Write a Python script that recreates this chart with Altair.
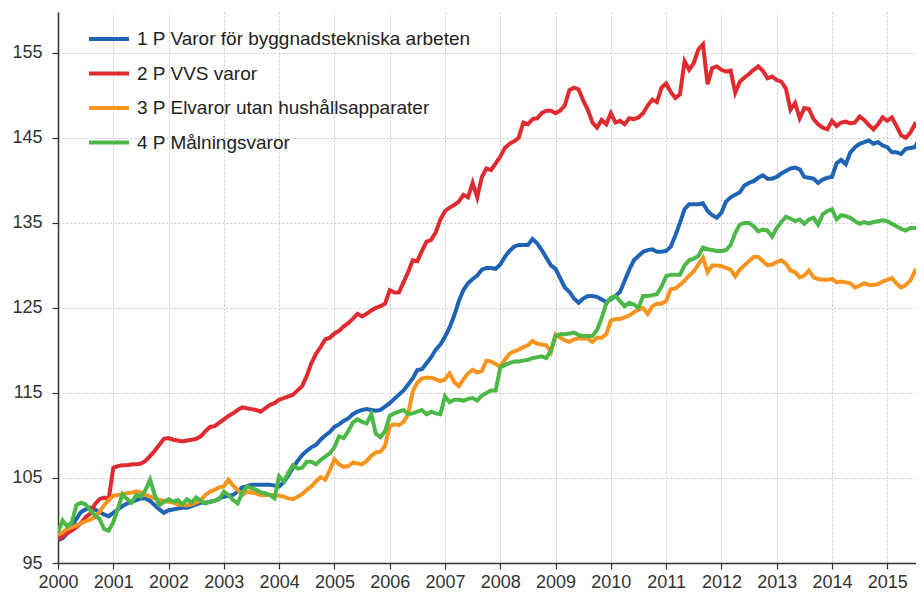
import altair as alt
import pandas as pd

# Series names (legend labels)
names = [
    "1 P Varor för byggnadstekniska arbeten",
    "2 P VVS varor",
    "3 P Elvaror utan hushållsapparater",
    "4 P Målningsvaror",
]
colors = ["#1f64b4", "#df2a2f", "#f7941d", "#4cb847"]

years = list(range(2000, 2016))
y_ticks = [95, 105, 115, 125, 135, 145, 155]

# Monthly index values, Jan 2000 .. Sep 2015
s1 = [
    97.7, 97.9, 98.5, 99.3, 100.2, 101.0, 101.3, 101.5, 101.3, 101.0, 100.7, 100.5,
    100.9, 101.3, 101.7, 102.0, 102.2, 102.4, 102.6, 102.6, 102.3, 101.8, 101.3, 100.9,
    101.2, 101.3, 101.4, 101.5, 101.5, 101.7, 101.9, 102.1, 102.1, 102.2, 102.3, 102.6,
    102.8, 102.9, 103.0, 103.4, 103.9, 104.0, 104.2, 104.2, 104.2, 104.2, 104.2, 104.1,
    104.0, 104.5, 105.3, 106.2, 107.0, 107.7, 108.2, 108.6, 108.9, 109.5, 110.0, 110.4,
    111.0, 111.3, 111.7, 112.0, 112.5, 112.8, 113.0, 113.1, 113.0, 112.9, 113.0, 113.4,
    113.8, 114.3, 114.8, 115.3, 116.0, 116.7, 117.7, 117.8, 118.5, 119.2, 120.1, 120.7,
    121.6, 122.7, 124.1, 125.8, 127.1, 127.9, 128.4, 128.8, 129.5, 129.7, 129.7, 129.6,
    130.1, 131.0, 131.7, 132.2, 132.4, 132.4, 132.4, 133.1, 132.6, 131.8, 130.9, 130.0,
    129.6, 128.5, 127.4, 126.9, 126.1, 125.6, 126.1, 126.4, 126.4, 126.3, 126.0, 125.7,
    126.0, 126.4, 126.9, 128.2, 129.5, 130.6, 131.1, 131.6, 131.8, 131.9, 131.6, 131.6,
    131.7, 132.2, 133.5, 135.0, 136.6, 137.2, 137.2, 137.2, 137.3, 136.4, 135.9, 135.6,
    136.2, 137.5, 138.0, 138.3, 138.6, 139.4, 139.7, 139.9, 140.3, 140.6, 140.2, 140.2,
    140.4, 140.8, 141.1, 141.4, 141.5, 141.3, 140.4, 140.3, 140.2, 139.7, 140.1, 140.3,
    140.4, 142.0, 142.4, 141.9, 143.3, 143.9, 144.3, 144.5, 144.7, 144.3, 144.5, 144.1,
    143.9, 143.3, 143.3, 143.1, 143.7, 143.8, 143.9, 144.9, 144.4,
]
s2 = [
    97.8, 98.1, 98.5, 98.8, 99.2, 99.7, 100.4, 100.8, 101.9, 102.5, 102.7, 102.5,
    106.2, 106.4, 106.5, 106.5, 106.6, 106.6, 106.7, 107.0, 107.6, 108.2, 108.9, 109.6,
    109.7, 109.5, 109.4, 109.3, 109.4, 109.5, 109.6, 109.9, 110.5, 111.0, 111.1, 111.5,
    111.9, 112.3, 112.6, 113.0, 113.3, 113.2, 113.1, 113.0, 112.8, 113.2, 113.6, 113.8,
    114.2, 114.4, 114.6, 114.8, 115.3, 115.8, 117.0, 118.5, 119.6, 120.4, 121.3, 121.5,
    122.0, 122.3, 122.8, 123.2, 123.7, 124.3, 124.0, 124.3, 124.7, 125.0, 125.2, 125.5,
    127.1, 126.8, 126.8, 128.0, 129.2, 130.6, 130.5, 131.7, 132.8, 133.0, 133.9, 135.4,
    136.4, 136.8, 137.1, 137.5, 138.3, 138.0, 139.7, 138.0, 140.4, 141.4, 141.2, 142.0,
    142.8, 143.8, 144.3, 144.6, 145.0, 146.8, 146.6, 147.2, 147.3, 147.9, 148.2, 148.2,
    147.9, 148.2, 148.8, 150.6, 150.9, 150.7, 149.4, 148.3, 146.8, 146.2, 147.1, 146.6,
    147.9, 146.8, 147.0, 146.6, 147.3, 147.2, 147.4, 147.9, 148.8, 149.5, 149.2, 150.9,
    151.4, 150.4, 149.7, 150.1, 154.0, 153.0, 153.8, 155.4, 156.0, 151.3, 153.2, 153.4,
    153.0, 152.8, 152.9, 150.3, 151.6, 152.1, 152.5, 153.0, 153.4, 152.9, 152.0, 152.2,
    151.8, 151.6, 150.8, 148.3, 149.1, 147.3, 148.5, 148.4, 147.2, 146.6, 146.2, 146.0,
    147.0, 146.4, 146.8, 146.9, 146.7, 146.8, 147.5, 147.1, 146.5, 146.0, 146.6, 147.4,
    147.0, 147.4, 146.4, 145.3, 145.0, 145.6, 146.6, 146.1, 145.6,
]
s3 = [
    98.3, 98.6, 99.0, 99.2, 99.4, 99.7, 99.9, 100.1, 100.4, 101.0, 101.8, 102.4,
    102.9, 103.0, 103.1, 103.2, 103.3, 103.4, 103.3, 103.0, 102.8, 102.6, 102.4, 102.3,
    102.2, 102.1, 101.9, 101.8, 101.8, 101.9, 102.1, 102.4, 103.0, 103.4, 103.6, 103.9,
    104.0, 104.8, 104.1, 103.6, 103.0, 103.4, 103.3, 103.2, 103.0, 103.0, 103.0, 103.0,
    102.9, 102.8, 102.6, 102.5, 102.8, 103.1, 103.6, 104.0, 104.6, 105.1, 104.8, 105.9,
    107.2, 106.6, 106.3, 106.4, 106.8, 106.7, 106.6, 107.0, 107.6, 108.0, 108.1, 108.8,
    111.1, 111.3, 111.2, 111.6, 112.5, 115.2, 116.2, 116.7, 116.8, 116.8, 116.6, 116.4,
    116.6, 117.3, 116.3, 115.8, 116.6, 117.3, 117.7, 117.4, 117.6, 118.8, 118.7, 118.4,
    118.1, 118.9, 119.6, 119.9, 120.1, 120.4, 120.6, 121.1, 120.8, 120.7, 120.6, 119.8,
    121.9, 121.5, 121.2, 121.0, 121.3, 121.4, 121.4, 121.4, 121.0, 121.5, 121.5, 121.9,
    123.5, 123.7, 123.7, 123.9, 124.1, 124.5, 124.8, 125.0, 124.3, 125.2, 125.5, 125.5,
    125.8, 127.2, 127.3, 127.7, 128.2, 128.8, 129.3, 130.1, 130.9, 129.2, 130.0, 130.0,
    129.9, 129.7, 129.5, 128.7, 129.5, 130.0, 130.5, 131.0, 131.0, 130.5, 130.0, 130.1,
    130.4, 130.6, 130.2, 129.4, 129.2, 128.6, 128.8, 129.4, 128.6, 128.4, 128.3, 128.3,
    128.4, 128.0, 128.1, 128.0, 127.9, 127.4, 127.6, 127.9, 127.7, 127.7, 127.8, 128.1,
    128.3, 128.5, 127.9, 127.4, 127.7, 128.2, 129.3, 128.7, 128.2,
]
s4 = [
    98.6, 100.0, 99.3, 99.8, 101.8, 102.1, 101.9, 101.2, 100.6, 100.2, 99.0, 98.8,
    99.8, 101.4, 103.1, 102.5, 102.1, 103.0, 102.8, 103.6, 104.8, 103.0, 101.8, 102.2,
    102.5, 102.2, 102.4, 101.9, 102.5, 102.1, 102.7, 102.3, 102.0, 102.2, 102.3, 102.5,
    103.4, 103.0, 102.4, 102.0, 103.3, 104.0, 103.8, 103.6, 103.3, 103.2, 103.0, 102.6,
    105.2, 104.6, 105.6, 106.5, 106.1, 106.2, 106.9, 106.9, 106.6, 107.1, 107.5, 107.9,
    108.6, 109.9, 109.7, 110.5, 111.5, 111.9, 111.6, 111.4, 112.5, 110.2, 109.8, 110.5,
    112.3, 112.6, 112.8, 113.0, 112.5, 112.6, 112.8, 113.0, 112.5, 112.8, 112.6, 112.5,
    114.6, 113.9, 114.2, 114.2, 114.1, 114.3, 114.4, 114.1, 114.7, 115.0, 115.3, 115.3,
    118.0, 118.3, 118.5, 118.7, 118.7, 118.8, 118.9, 119.1, 119.2, 119.3, 119.1, 120.0,
    121.7, 121.9, 121.9, 122.0, 122.1, 121.8, 121.7, 121.7, 121.7, 122.4, 123.8, 125.5,
    126.2, 126.4, 125.8, 125.2, 125.6, 125.4, 125.0, 126.4, 126.4, 126.5, 126.6, 127.5,
    128.7, 128.9, 128.9, 128.9, 130.0, 130.6, 130.8, 131.1, 132.1, 131.9, 131.8, 131.7,
    131.7, 131.8, 132.4, 133.8, 134.8, 135.0, 135.0, 134.6, 134.0, 134.2, 134.1, 133.4,
    134.4, 135.1, 135.7, 135.5, 135.2, 135.4, 134.9, 135.4, 135.6, 134.8, 136.0, 136.4,
    136.6, 135.4, 135.9, 135.8, 135.6, 135.2, 134.9, 135.1, 134.9, 135.1, 135.2, 135.3,
    135.2, 134.9, 134.6, 134.3, 134.1, 134.4, 134.4, 134.2, 134.0,
]

rows = []
for name, vals in zip(names, [s1, s2, s3, s4]):
    for i, v in enumerate(vals):
        rows.append({"serie": name, "t": 2000 + i / 12.0, "value": v})
df = pd.DataFrame(rows)

font = "Liberation Sans"

lines = alt.Chart(df).mark_line(strokeWidth=4, clip=True).encode(
    x=alt.X(
        "t:Q",
        scale=alt.Scale(domain=[2000, 2015.52], nice=False, zero=False),
        axis=alt.Axis(values=years, format="d", title=None, grid=True,
                      tickSize=6, labelPadding=4, labelFlush=False,
                      labelOverlap=False),
    ),
    y=alt.Y(
        "value:Q",
        scale=alt.Scale(domain=[95, 159.8], nice=False, zero=False),
        axis=alt.Axis(values=y_ticks, title=None, grid=True,
                      tickSize=6, labelPadding=10),
    ),
    color=alt.Color(
        "serie:N",
        scale=alt.Scale(domain=names, range=colors),
        legend=alt.Legend(
            title=None, orient="none", legendX=29, legendY=5,
            symbolType="stroke", symbolSize=1600, symbolStrokeWidth=4,
            labelFontSize=19, labelFont=font, labelColor="#222222",
            labelOffset=6, rowPadding=2.5, padding=0, labelLimit=600,
        ),
    ),
    order=alt.Order("t:Q"),
)

chart = lines.properties(
    width=858, height=551,
    autosize=alt.AutoSizeParams(type="none"),
    padding={"left": 50, "top": 4, "right": 0, "bottom": 30},
).configure_view(strokeWidth=0).configure_axis(
    domainColor="#333333", domainWidth=1.5,
    tickColor="#333333", tickWidth=1.2,
    gridColor="#c8c8c8", gridDash=[2, 2], gridWidth=1,
    labelFont=font, labelFontSize=18, labelColor="#333333",
)

chart.save("out.html", embed_options={"renderer": "svg", "actions": False})
